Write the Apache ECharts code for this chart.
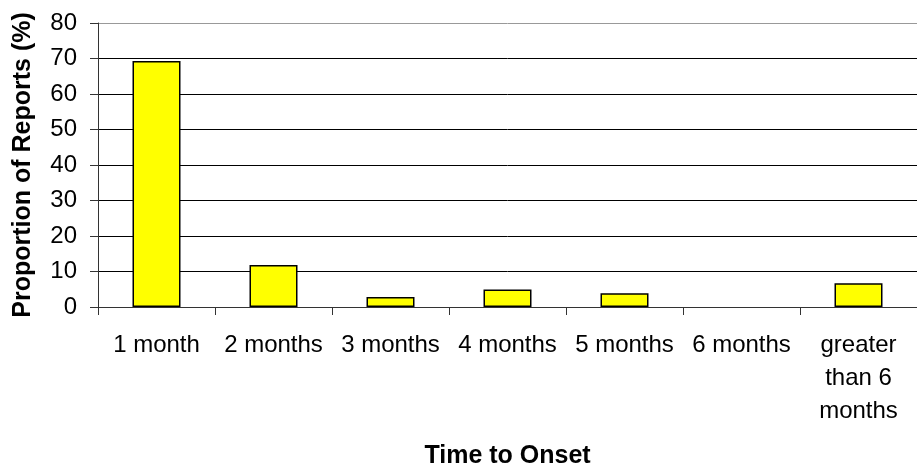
<!DOCTYPE html>
<html>
<head>
<meta charset="utf-8">
<script src="https://cdn.jsdelivr.net/npm/echarts@6/dist/echarts.min.js"></script>
<style>
  html, body { margin: 0; padding: 0; background: #fff; }
  #chart { width: 917px; height: 474px; }
</style>
</head>
<body>
<div id="chart"></div>
<script>
const categories = ['1 month', '2 months', '3 months', '4 months', '5 months', '6 months', 'greater\nthan 6\nmonths'];
const proportions = [69.3, 11.8, 2.8, 4.9, 3.9, 0, 6.7];

const chart = echarts.init(document.getElementById('chart'));
const font = 'Liberation Sans, Arial, sans-serif';

const option = {
  animation: false,
  grid: {
    left: 98,
    right: -4,
    top: 23,
    bottom: 164
  },
  xAxis: {
    type: 'category',
    data: categories,
    name: 'Time to Onset',
    nameLocation: 'middle',
    nameGap: 137,
    nameMoveOverlap: false,
    nameTextStyle: { fontFamily: font, fontSize: 25, fontWeight: 'bold', color: '#000' },
    axisLine: { lineStyle: { color: '#333', width: 1 } },
    axisTick: { show: true, length: 8, alignWithLabel: false, lineStyle: { color: '#333' } },
    axisLabel: {
      interval: 0,
      margin: 22,
      fontFamily: font,
      fontSize: 24,
      lineHeight: 33,
      color: '#000'
    }
  },
  yAxis: {
    type: 'value',
    min: 0,
    max: 80,
    interval: 10,
    name: 'Proportion of Reports (%)',
    nameLocation: 'middle',
    nameGap: 62,
    nameMoveOverlap: false,
    nameTextStyle: { fontFamily: font, fontSize: 25, fontWeight: 'bold', color: '#000' },
    axisLine: { show: true, lineStyle: { color: '#333', width: 1 } },
    axisTick: { show: true, length: 8, lineStyle: { color: '#333' } },
    axisLabel: { margin: 21, fontFamily: font, fontSize: 24, color: '#000' },
    splitLine: {
      show: true,
      lineStyle: {
        color: ['#000', '#000', '#000', '#000', '#000', '#000', '#000', '#000', '#999'],
        width: 1
      }
    }
  },
  series: [
    {
      type: 'bar',
      // a zero-height bar is not drawn in the original
      data: proportions.map(v => (v === 0 ? '-' : v)),
      barWidth: 48,
      itemStyle: {
        color: '#ffff00',
        borderColor: '#000',
        borderWidth: 1.5
      }
    }
  ]
};

chart.setOption(option);
</script>
</body>
</html>
